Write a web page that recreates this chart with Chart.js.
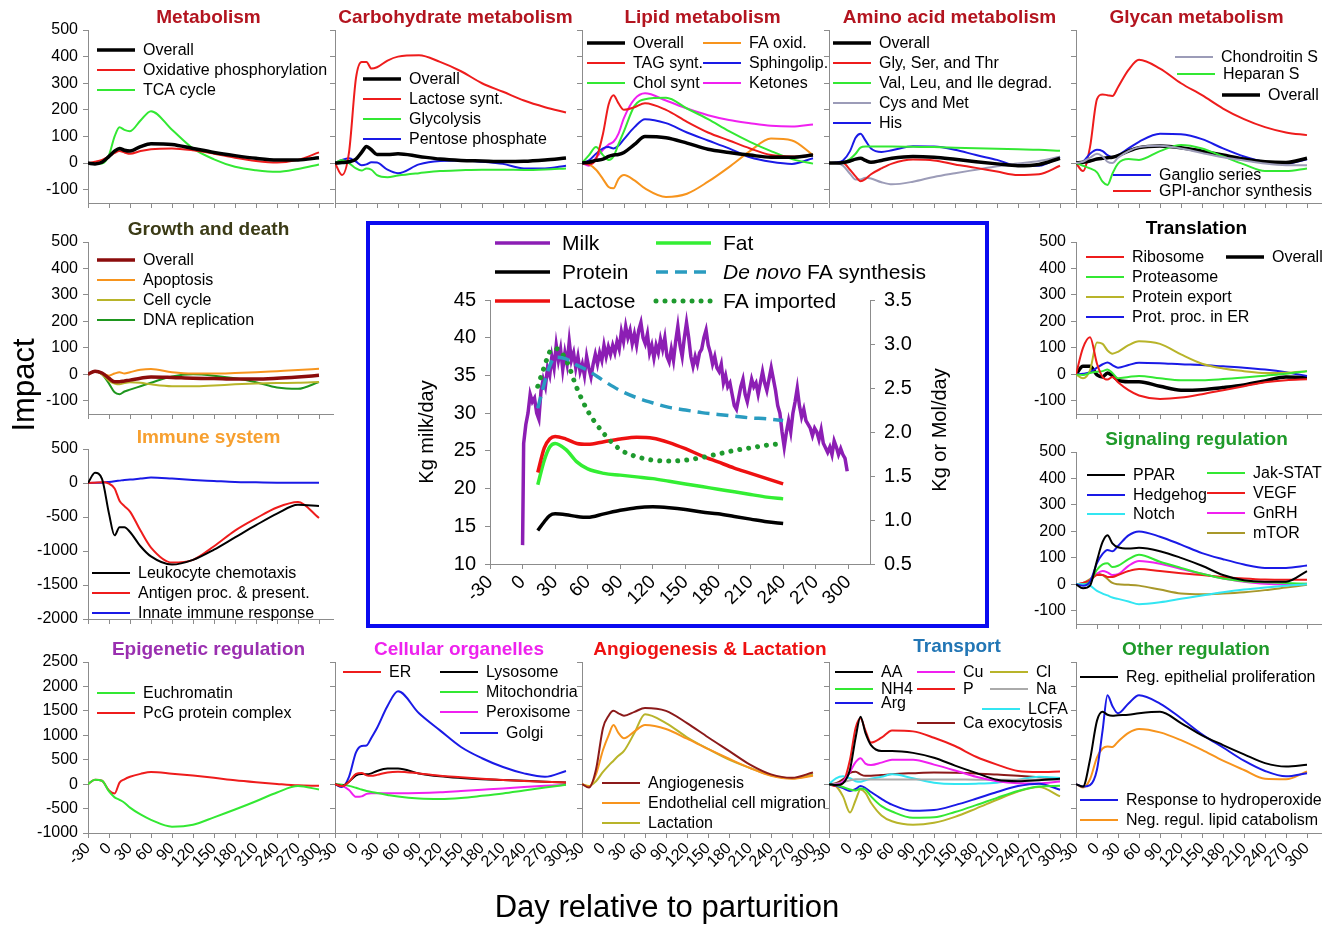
<!DOCTYPE html>
<html lang="en">
<head>
    <meta charset="UTF-8">
    <title>Impact over the lactation cycle</title>
    <script src="https://cdn.jsdelivr.net/npm/chart.js"></script>
    <style>
        body { margin: 0; background: #fff; overflow: hidden; }
        #page { position: relative; width: 1334px; height: 927px; }
        #page canvas { position: absolute; left: 0; top: 0; }
    </style>
</head>
<body>
<div id="page"></div>

<script>
    // ---- common axes ----
    const DAYS = [-30, -20, -10, 0, 8, 15, 22, 30, 45, 60, 90, 120, 150, 180, 210, 240, 270, 300];
    const X_TICKS = [-30, 0, 30, 60, 90, 120, 150, 180, 210, 240, 270, 300];
    const Y_TICKS_500 = [-100, 0, 100, 200, 300, 400, 500];
    const Y_TICKS_IMMUNE = [-2000, -1500, -1000, -500, 0, 500];
    const Y_TICKS_2500 = [-1000, -500, 0, 500, 1000, 1500, 2000, 2500];

    // ---- Metabolism ----
    const MET_OVERALL = [0, -3, 3, 25, 45, 55, 48, 45, 62, 73, 70, 55, 40, 28, 18, 12, 12, 20];
    const MET_OXPHOS = [0, 5, 12, 25, 38, 45, 40, 35, 45, 52, 55, 48, 35, 20, 8, 2, 12, 40];
    const MET_TCA = [0, -3, -2, 30, 100, 135, 125, 120, 160, 195, 125, 55, 14, -14, -27, -33, -22, -5];

    // ---- Carbohydrate metabolism ----
    const CARB_OVERALL = [0, 2, 5, 15, 40, 62, 50, 32, 32, 35, 25, 15, 10, 8, 6, 7, 12, 19];
    const CARB_LACTOSE = [0, -45, 40, 320, 380, 380, 355, 360, 385, 400, 405, 380, 345, 300, 268, 235, 210, 190];
    const CARB_GLYCO = [0, 12, 0, -20, -28, -20, -25, -45, -53, -47, -38, -30, -27, -25, -25, -26, -24, -20];
    const CARB_PENTOSE = [0, 12, 18, 5, -8, -5, 3, 2, -25, -38, -5, 8, 10, 5, -3, -20, -20, -10];

    // ---- Lipid metabolism ----
    const LIP_OVERALL = [0, 3, 10, 15, 25, 30, 32, 40, 70, 100, 95, 75, 52, 40, 30, 22, 22, 30];
    const LIP_TAG = [0, -5, 15, 110, 220, 255, 225, 200, 210, 225, 200, 155, 115, 85, 55, 30, 25, 30];
    const LIP_CHOL = [0, 30, 60, 30, 12, 25, 70, 120, 215, 240, 245, 205, 165, 120, 80, 45, 15, -2];
    const LIP_FAOX = [0, -5, -25, -60, -90, -95, -60, -45, -65, -95, -127, -115, -70, -15, 45, 92, 85, 30];
    const LIP_SPHINGO = [0, 10, 35, 55, 60, 55, 65, 90, 135, 165, 150, 115, 85, 55, 22, 5, -3, 18];
    const LIP_KETONES = [0, -10, 20, 50, 70, 80, 110, 170, 240, 262, 235, 205, 180, 162, 150, 140, 137, 145];

    // ---- Amino acid metabolism ----
    const AA_OVERALL = [0, 0, 2, 8, 15, 18, 10, 3, 10, 18, 25, 22, 14, 5, -3, -10, -5, 18];
    const AA_GLY = [0, 0, 0, -25, -50, -68, -60, -42, -20, -2, 13, 10, -5, -18, -32, -45, -42, -10];
    const AA_VAL = [0, 0, 2, 15, 35, 58, 62, 62, 62, 62, 61, 60, 58, 56, 54, 52, 50, 46];
    const AA_CYS = [0, 0, -10, -40, -62, -62, -55, -58, -72, -80, -70, -52, -38, -25, -12, -2, 8, 24];
    const AA_HIS = [0, 2, 10, 45, 95, 110, 85, 55, 42, 48, 63, 62, 50, 30, 12, -10, -10, 24];

    // ---- Glycan metabolism ----
    const GLY_OVERALL = [0, 3, 8, 15, 18, 20, 22, 28, 45, 58, 64, 58, 45, 30, 15, 5, 2, 18];
    const GLY_GPI = [0, -30, 60, 240, 258, 255, 252, 285, 350, 388, 355, 300, 255, 205, 165, 135, 115, 105];
    const GLY_GANGLIO = [0, 5, 35, 50, 45, 30, 22, 30, 55, 80, 110, 108, 90, 55, 25, 5, -2, 14];
    const GLY_HEPARAN = [0, -10, -20, -35, -70, -82, -40, -2, 15, 12, 45, 68, 55, 25, -5, -30, -30, -20];
    const GLY_CHONDRO = [0, 5, 20, 35, 25, 5, 0, 20, 45, 60, 65, 55, 38, 22, 10, -2, -8, -8];

    // ---- Growth and death ----
    const GRO_OVERALL = [0, 12, 5, -15, -28, -28, -25, -22, -15, -10, -12, -15, -16, -18, -18, -15, -10, -4];
    const GRO_APOP = [0, 12, 5, -5, 3, 8, 3, 8, 17, 20, 8, 3, 3, 5, 8, 12, 16, 21];
    const GRO_CELL = [0, 12, 0, -25, -35, -38, -33, -30, -32, -38, -45, -45, -42, -38, -35, -33, -32, -29];
    const GRO_DNA = [0, 12, 0, -35, -68, -75, -65, -58, -45, -32, -8, 0, -5, -15, -30, -50, -55, -29];

    // ---- Immune system ----
    const IMM_LEUKO = [0, 150, 60, -450, -770, -650, -650, -720, -930, -1080, -1200, -1130, -980, -800, -620, -450, -320, -340];
    const IMM_ANTIGEN = [0, 5, 10, -10, -80, -260, -340, -420, -700, -950, -1170, -1130, -930, -700, -520, -360, -280, -515];
    const IMM_INNATE = [0, 2, 5, 15, 25, 35, 45, 50, 65, 80, 65, 45, 30, 15, 10, 5, 3, 2];

    // ---- Translation ----
    const TRA_RIBO = [0, 100, 140, 40, -10, -20, -10, -30, -60, -80, -93, -88, -75, -60, -45, -30, -22, -19];
    const TRA_OVERALL = [0, 30, 30, -2, -10, 5, -5, -22, -28, -28, -45, -60, -58, -50, -40, -25, -10, -12];
    const TRA_PROTEASOME = [0, -3, 5, 10, 12, 18, 5, -15, -10, -6, -15, -22, -22, -18, -12, -5, 2, 12];
    const TRA_EXPORT = [0, -15, 15, 120, 115, 90, 78, 85, 110, 125, 115, 75, 40, 22, 12, 5, 6, 12];
    const TRA_ER = [0, 2, 8, 25, 38, 45, 35, 25, 35, 44, 42, 38, 35, 30, 25, 18, 8, -6];

    // ---- Signaling regulation ----
    const SIG_PPAR = [0, -15, -5, 90, 160, 185, 155, 140, 135, 138, 125, 100, 70, 35, 15, 10, 10, 50];
    const SIG_HEDGEHOG = [0, -5, 10, 80, 115, 130, 125, 145, 185, 200, 180, 150, 118, 95, 75, 62, 62, 71];
    const SIG_NOTCH = [0, 0, -5, -25, -35, -42, -50, -55, -65, -75, -68, -55, -42, -30, -20, -12, -5, 0];
    const SIG_JAK = [0, 0, 10, 55, 75, 80, 65, 70, 95, 112, 85, 62, 40, 22, 12, 8, 5, 2];
    const SIG_VEGF = [0, 5, 15, 35, 35, 28, 28, 35, 50, 58, 50, 42, 35, 28, 22, 18, 17, 17];
    const SIG_GNRH = [0, 3, 15, 40, 50, 45, 35, 38, 70, 88, 78, 58, 40, 22, 10, 2, 0, 2];
    const SIG_MTOR = [0, 5, 20, 40, 35, 20, 5, 0, -2, -5, -20, -35, -38, -35, -30, -22, -12, -2];

    // ---- Epigenetic regulation ----
    const EPI_EUCHRO = [0, 90, 70, -150, -270, -320, -380, -480, -620, -730, -870, -830, -680, -520, -350, -170, -40, -110];
    const EPI_PCG = [0, 90, 70, -130, -190, 30, 100, 150, 210, 250, 215, 175, 130, 80, 40, 5, -25, -35];

    // ---- Cellular organelles ----
    const ORG_ER = [0, -40, 50, 210, 230, 180, 170, 190, 240, 255, 220, 170, 140, 110, 85, 65, 50, 34];
    const ORG_LYSO = [0, -40, 50, 180, 210, 200, 220, 270, 320, 320, 220, 160, 125, 100, 85, 70, 50, 34];
    const ORG_MITO = [0, -10, -35, -75, -110, -140, -160, -180, -220, -255, -295, -305, -285, -240, -190, -130, -70, -14];
    const ORG_PEROX = [0, -30, -120, -260, -250, -200, -185, -185, -185, -185, -180, -165, -140, -115, -90, -60, -35, -14];
    const ORG_GOLGI = [0, -60, 150, 650, 780, 790, 950, 1150, 1600, 1900, 1450, 1100, 760, 530, 350, 220, 150, 270];

    // ---- Angiogenesis & Lactation ----
    const ANG_ANGIO = [0, -70, 300, 1150, 1400, 1500, 1450, 1400, 1480, 1560, 1500, 1250, 960, 680, 400, 200, 130, 240];
    const ANG_ENDO = [0, -50, 200, 700, 1000, 1210, 1050, 940, 1080, 1210, 1130, 930, 720, 520, 330, 170, 110, 170];
    const ANG_LACT = [0, -40, 60, 250, 380, 480, 580, 680, 1050, 1430, 1250, 960, 720, 500, 330, 180, 120, 190];

    // ---- Transport ----
    const TR_AA = [0, -20, 20, 300, 950, 1380, 1050, 800, 680, 680, 640, 540, 380, 230, 90, 60, 80, 110];
    const TR_NH4 = [0, -20, -60, -110, -130, -90, -110, -250, -450, -560, -690, -680, -570, -430, -280, -140, -50, -34];
    const TR_ARG = [0, -30, -80, -140, -100, -40, -80, -160, -300, -420, -545, -530, -430, -300, -160, -40, 10, -116];
    const TR_CU = [0, -10, 50, 250, 450, 530, 420, 390, 440, 500, 500, 400, 280, 150, 60, 20, 15, 55];
    const TR_P = [0, -40, 30, 500, 1150, 1350, 1100, 850, 950, 1100, 1080, 950, 780, 560, 400, 270, 250, 260];
    const TR_CL = [0, -40, -250, -580, -330, -110, -180, -380, -640, -760, -830, -790, -670, -500, -320, -150, -60, -252];
    const TR_NA = [0, 10, 40, 80, 100, 100, 100, 95, 95, 95, 95, 95, 95, 90, 90, 90, 90, 90];
    const TR_LCFA = [0, 120, 160, 120, 60, 50, 80, 110, 150, 200, 120, 30, 5, 10, 30, 90, 150, 125];
    const TR_CA = [0, 20, 100, 230, 255, 200, 170, 170, 185, 205, 225, 240, 235, 220, 195, 170, 140, 110];

    // ---- Other regulation ----
    const OTH_EPI = [0, -50, 500, 1300, 1480, 1420, 1400, 1410, 1420, 1450, 1480, 1250, 1000, 800, 610, 430, 360, 396];
    const OTH_HYDRO = [0, -50, -20, 300, 1100, 1820, 1600, 1450, 1650, 1820, 1650, 1350, 1020, 750, 480, 270, 160, 225];
    const OTH_NEG = [0, -70, 100, 550, 730, 770, 760, 870, 1050, 1130, 1060, 900, 700, 480, 290, 110, 100, 259];

    // ---- centre panel: milk yield and components ----
    const MILK_DAYS = [
        0, 1, 3, 5, 7, 9, 11, 13, 15, 17,
        19, 21, 23, 25, 27, 29, 31, 33, 35, 37,
        39, 41, 43, 45, 47, 49, 51, 53, 55, 57,
        59, 61, 63, 65, 67, 69, 71, 73, 75, 77,
        79, 81, 83, 85, 87, 89, 91, 93, 95, 97,
        99, 101, 103, 105, 107, 109, 111, 113, 115, 117,
        119, 121, 123, 125, 127, 129, 131, 133, 135, 137,
        139, 141, 143, 145, 147, 149, 151, 153, 155, 157,
        159, 161, 163, 165, 167, 169, 171, 173, 175, 177,
        179, 181, 183, 185, 187, 189, 191, 193, 195, 197,
        199, 201, 203, 205, 207, 209, 211, 213, 215, 217,
        219, 221, 223, 225, 227, 229, 231, 233, 235, 237,
        239, 241, 243, 245, 247, 249, 251, 253, 255, 257,
        259, 261, 263, 265, 267, 269, 271, 273, 275, 277,
        279, 281, 283, 285, 287, 289, 291, 293, 295, 297,
        299
    ];
    const MILK_KG = [
        12.5, 26, 28.5, 30, 32.5, 31.5, 32, 30, 29.2, 33,
        34.5, 33.5, 36, 35, 37.5, 36, 39, 37, 38.5, 35.8,
        38, 36.5, 39.5, 37, 38, 36, 37.5, 35.5, 36.5, 35,
        37.5, 36, 34.8, 36.5, 37.8, 36.5, 38, 37, 39, 37.5,
        38.8, 37.8, 39, 38, 39.5, 38.5, 40.8, 39.5, 41.5, 40,
        41, 39.2, 40.5, 39, 41, 42, 40, 39.2, 40.5, 38,
        39, 37.3, 39, 38, 39.8, 38.5, 40, 37.5, 36.8, 38.5,
        37, 39.5, 41.5, 39, 37.5, 40, 42, 40, 37.5, 36.2,
        37.5, 36.5, 38, 38.5, 40, 41, 39, 38, 36.5, 37.5,
        36, 35.5, 36.5, 34, 35, 33.5, 34, 32.5, 31, 30.5,
        32, 33.5, 34.5, 32.5, 31.5, 33, 34.5, 33.5, 34, 32.5,
        34, 35.5, 34, 33, 34.5, 36, 34.5, 33, 31, 30,
        27.5, 25.5, 27.5, 29, 27.5, 30, 31.5, 33.3, 31, 29.5,
        30.5, 29, 28.5, 28, 27, 28, 27.5, 26.5, 27.8, 26,
        25.4, 24.8, 25.5, 24.5, 26.3, 25.5, 24.5, 25.3, 24.5, 24,
        22.3
    ];
    const CENTER_DAYS = [14, 20, 25, 30, 40, 50, 60, 75, 90, 105, 120, 135, 150, 165, 180, 195, 210, 225, 240];
    const LACTOSE = [1.54, 1.82, 1.92, 1.95, 1.92, 1.87, 1.86, 1.89, 1.92, 1.94, 1.93, 1.88, 1.81, 1.73, 1.66, 1.59, 1.53, 1.47, 1.41];
    const FAT = [1.40, 1.68, 1.83, 1.87, 1.80, 1.66, 1.58, 1.53, 1.51, 1.49, 1.47, 1.44, 1.41, 1.38, 1.35, 1.32, 1.29, 1.26, 1.24];
    const PROTEIN = [0.88, 0.98, 1.05, 1.07, 1.06, 1.04, 1.03, 1.07, 1.11, 1.14, 1.15, 1.14, 1.12, 1.09, 1.07, 1.04, 1.01, 0.98, 0.96];
    const DE_NOVO = [2.27, 2.55, 2.75, 2.85, 2.83, 2.76, 2.70, 2.58, 2.47, 2.39, 2.33, 2.28, 2.25, 2.22, 2.20, 2.18, 2.16, 2.15, 2.13];
    const FA_IMPORTED = [2.52, 2.74, 2.91, 2.95, 2.82, 2.50, 2.24, 1.98, 1.80, 1.72, 1.68, 1.67, 1.68, 1.71, 1.75, 1.79, 1.82, 1.85, 1.87];
    const CENTER_X_TICKS = [-30, 0, 30, 60, 90, 120, 150, 180, 210, 240, 270, 300];
    const MILK_TICKS = [10, 15, 20, 25, 30, 35, 40, 45];
    const KG_MOL_TICKS = [0.5, 1.0, 1.5, 2.0, 2.5, 3.0, 3.5];

    // ---- look ----
    const FONT = '"Liberation Sans", Arial, Helvetica, sans-serif';
    const AXIS_GRAY = '#8c8c8c';
    const PAGE_W = 1334, PAGE_H = 927;
    const COL_X = [88, 335, 582, 829, 1076];
    const PANEL_W = 245;
    const C = {
        black: '#000000', red: '#ee1c1c', green: '#33e833', blue: '#1a1ae6', magenta: '#f020f0',
        orange: '#f7941d', gray: '#9c9cb8', olive: '#b8b42a', dkgreen: '#1e961e', dkred: '#8b0c0c',
        cyan: '#33e6f2', ltgray: '#aaaaaa', brown: '#8b1a1a', mtor: '#a8982a'
    };
    const TITLE_RED = '#b3141f';

    const ROW1 = { y0: 30, y1: 203, ty: 18, yMin: -150, yMax: 500, yTicks: Y_TICKS_500 };
    const ROW4 = { y0: 662, y1: 833, ty: 650, yMin: -1000, yMax: 2500, yTicks: Y_TICKS_2500, xLabels: true };

    const PANELS = [
        { ...ROW1, col: 0, title: 'Metabolism', color: TITLE_RED, yLabels: true,
          series: [['Overall', MET_OVERALL, C.black, 3.5], ['Oxidative phosphorylation', MET_OXPHOS, C.red], ['TCA cycle', MET_TCA, C.green]],
          legend: [[0, 97, 50], [1, 97, 70], [2, 97, 90]] },
        { ...ROW1, col: 1, title: 'Carbohydrate metabolism', color: TITLE_RED,
          series: [['Overall', CARB_OVERALL, C.black, 3.5], ['Lactose synt.', CARB_LACTOSE, C.red], ['Glycolysis', CARB_GLYCO, C.green], ['Pentose phosphate', CARB_PENTOSE, C.blue]],
          legend: [[0, 363, 79], [1, 363, 99], [2, 363, 119], [3, 363, 139]] },
        { ...ROW1, col: 2, title: 'Lipid metabolism', color: TITLE_RED,
          series: [['Overall', LIP_OVERALL, C.black, 3.5], ['TAG synt.', LIP_TAG, C.red], ['Chol synt', LIP_CHOL, C.green],
                   ['FA oxid.', LIP_FAOX, C.orange], ['Sphingolip.', LIP_SPHINGO, C.blue], ['Ketones', LIP_KETONES, C.magenta]],
          legend: [[0, 587, 43], [1, 587, 63], [2, 587, 83], [3, 703, 43], [4, 703, 63], [5, 703, 83]] },
        { ...ROW1, col: 3, title: 'Amino acid metabolism', color: TITLE_RED,
          series: [['Overall', AA_OVERALL, C.black, 3.5], ['Gly, Ser, and Thr', AA_GLY, C.red], ['Val, Leu, and Ile degrad.', AA_VAL, C.green],
                   ['Cys and Met', AA_CYS, C.gray], ['His', AA_HIS, C.blue]],
          legend: [[0, 833, 43], [1, 833, 63], [2, 833, 83], [3, 833, 103], [4, 833, 123]] },
        { ...ROW1, col: 4, title: 'Glycan metabolism', color: TITLE_RED,
          series: [['Chondroitin S', GLY_CHONDRO, C.gray], ['Heparan S', GLY_HEPARAN, C.green], ['Overall', GLY_OVERALL, C.black, 3.5],
                   ['Ganglio series', GLY_GANGLIO, C.blue], ['GPI-anchor synthesis', GLY_GPI, C.red]],
          legend: [[0, 1175, 57], [1, 1177, 74], [2, 1222, 95], [3, 1113, 175], [4, 1113, 191]] },

        { col: 0, y0: 242, y1: 414, ty: 230, yMin: -150, yMax: 500, yTicks: Y_TICKS_500, yLabels: true,
          title: 'Growth and death', color: '#3b3b16',
          series: [['Overall', GRO_OVERALL, C.dkred, 3.5], ['Apoptosis', GRO_APOP, C.orange], ['Cell cycle', GRO_CELL, C.olive], ['DNA replication', GRO_DNA, C.dkgreen]],
          legend: [[0, 97, 260], [1, 97, 280], [2, 97, 300], [3, 97, 320]] },
        { col: 4, y0: 242, y1: 414, ty: 229, yMin: -150, yMax: 500, yTicks: Y_TICKS_500, yLabels: true,
          title: 'Translation', color: '#000000',
          series: [['Ribosome', TRA_RIBO, C.red], ['Proteasome', TRA_PROTEASOME, C.green], ['Protein export', TRA_EXPORT, C.olive],
                   ['Prot. proc. in ER', TRA_ER, C.blue], ['Overall', TRA_OVERALL, C.black, 3.5]],
          legend: [[0, 1086, 257], [1, 1086, 277], [2, 1086, 297], [3, 1086, 317], [4, 1226, 257]] },

        { col: 0, y0: 449, y1: 619, ty: 438, yMin: -2000, yMax: 500, yTicks: Y_TICKS_IMMUNE, yLabels: true,
          title: 'Immune system', color: '#f7a030',
          series: [['Leukocyte chemotaxis', IMM_LEUKO, C.black], ['Antigen proc. & present.', IMM_ANTIGEN, C.red], ['Innate immune response', IMM_INNATE, C.blue]],
          legend: [[0, 92, 573], [1, 92, 593], [2, 92, 613]] },
        { col: 4, y0: 452, y1: 624, ty: 440, yMin: -150, yMax: 500, yTicks: Y_TICKS_500, yLabels: true,
          title: 'Signaling regulation', color: '#1f9a2a',
          series: [['PPAR', SIG_PPAR, C.black], ['Hedgehog', SIG_HEDGEHOG, C.blue], ['Notch', SIG_NOTCH, C.cyan],
                   ['Jak-STAT', SIG_JAK, C.green], ['VEGF', SIG_VEGF, C.red], ['GnRH', SIG_GNRH, C.magenta], ['mTOR', SIG_MTOR, C.mtor]],
          legend: [[0, 1087, 475], [1, 1087, 495], [2, 1087, 514], [3, 1207, 473], [4, 1207, 493], [5, 1207, 513], [6, 1207, 533]] },

        { ...ROW4, col: 0, title: 'Epigenetic regulation', color: '#9a2fb0', yLabels: true,
          series: [['Euchromatin', EPI_EUCHRO, C.green], ['PcG protein complex', EPI_PCG, C.red]],
          legend: [[0, 97, 693], [1, 97, 713]] },
        { ...ROW4, col: 1, title: 'Cellular organelles', color: '#ee22ee', tx: 459,
          series: [['ER', ORG_ER, C.red], ['Lysosome', ORG_LYSO, C.black], ['Mitochondria', ORG_MITO, C.green],
                   ['Peroxisome', ORG_PEROX, C.magenta], ['Golgi', ORG_GOLGI, C.blue]],
          legend: [[0, 343, 672], [1, 440, 672], [2, 440, 692], [3, 440, 712], [4, 460, 733]] },
        { ...ROW4, col: 2, title: 'Angiogenesis & Lactation', color: '#ee1111', tx: 710,
          series: [['Angiogenesis', ANG_ANGIO, C.brown], ['Endothelial cell migration', ANG_ENDO, C.orange], ['Lactation', ANG_LACT, C.olive]],
          legend: [[0, 602, 783], [1, 602, 803], [2, 602, 823]] },
        { ...ROW4, col: 3, title: 'Transport', color: '#2276b5', tx: 957, ty: 647,
          series: [['AA', TR_AA, C.black], ['NH4', TR_NH4, C.green], ['Arg', TR_ARG, C.blue], ['Cu', TR_CU, C.magenta], ['P', TR_P, C.red],
                   ['Cl', TR_CL, C.olive], ['Na', TR_NA, C.ltgray], ['LCFA', TR_LCFA, C.cyan], ['Ca exocytosis', TR_CA, C.brown]],
          legend: [[0, 835, 672], [1, 835, 689], [2, 835, 703], [3, 917, 672], [4, 917, 689], [5, 990, 672], [6, 990, 689], [7, 982, 709], [8, 917, 723]] },
        { ...ROW4, col: 4, title: 'Other regulation', color: '#1f9a2a', tx: 1196,
          series: [['Reg. epithelial proliferation', OTH_EPI, C.black], ['Response to hydroperoxide', OTH_HYDRO, C.blue], ['Neg. regul. lipid catabolism', OTH_NEG, C.orange]],
          legend: [[0, 1080, 677], [1, 1080, 800], [2, 1080, 820]] }
    ];

    const page = document.getElementById('page');

    function newCanvas() {
        const c = document.createElement('canvas');
        c.width = PAGE_W;
        c.height = PAGE_H;
        page.appendChild(c);
        return c;
    }

    function toPoints(days, vals) {
        return days.map((d, i) => ({ x: d, y: vals[i] }));
    }

    function legendItem(ctx, ds, x, y, len, gap, size) {
        ctx.save();
        ctx.strokeStyle = ds.borderColor;
        ctx.lineWidth = ds.borderWidth;
        ctx.lineCap = ds.borderCapStyle || 'butt';
        ctx.setLineDash(ds.borderDash || []);
        ctx.beginPath();
        ctx.moveTo(x, y);
        ctx.lineTo(x + len, y);
        ctx.stroke();
        ctx.restore();

        ctx.fillStyle = '#000';
        ctx.textAlign = 'left';
        ctx.textBaseline = 'middle';
        let tx = x + gap;
        let text = ds.label;
        if (ds.italicPart) {
            ctx.font = 'italic ' + size + 'px ' + FONT;
            ctx.fillText(ds.italicPart, tx, y + 1);
            tx += ctx.measureText(ds.italicPart).width;
            text = ds.label.slice(ds.italicPart.length);
        }
        ctx.font = size + 'px ' + FONT;
        ctx.fillText(text, tx, y + 1);
    }

    function axisLook(extra) {
        return Object.assign({
            grid: { drawOnChartArea: false, drawTicks: true, tickLength: 5, color: AXIS_GRAY, lineWidth: 1 },
            border: { display: true, color: AXIS_GRAY, width: 1 }
        }, extra);
    }

    // one full-page canvas per small panel, the plot box set by layout padding
    function makePanel(p) {
        const x0 = COL_X[p.col], x1 = x0 + PANEL_W;
        const yW = p.yLabels ? 62 : 6;   // labels are clipped to the axis box, keep it wide
        const xH = p.xLabels ? 40 : 6;

        const decoration = {
            id: 'panelDeco',
            afterDraw(chart) {
                const ctx = chart.ctx;
                ctx.save();
                ctx.font = 'bold 19px ' + FONT;
                ctx.fillStyle = p.color;
                ctx.textAlign = 'center';
                ctx.textBaseline = 'middle';
                ctx.fillText(p.title, p.tx || (x0 + PANEL_W / 2 - 2), p.ty);
                p.legend.forEach(([i, x, y]) => legendItem(ctx, chart.data.datasets[i], x, y, 38, 46, 16));
                ctx.restore();
            }
        };

        return new Chart(newCanvas(), {
            type: 'line',
            data: {
                datasets: p.series.map(([label, vals, color, width]) => ({
                    label: label,
                    data: toPoints(DAYS, vals),
                    borderColor: color,
                    borderWidth: width || 2,
                    pointRadius: 0,
                    cubicInterpolationMode: 'monotone',
                    fill: false
                }))
            },
            options: {
                responsive: false,
                animation: false,
                devicePixelRatio: 1,
                events: [],
                layout: { padding: { left: x0 - yW, top: p.y0, right: PAGE_W - x1, bottom: PAGE_H - p.y1 - xH } },
                plugins: { legend: { display: false }, tooltip: { enabled: false }, title: { display: false } },
                scales: {
                    x: axisLook({
                        type: 'linear', min: -30, max: 320,
                        afterBuildTicks: s => { s.ticks = X_TICKS.map(v => ({ value: v })); },
                        afterFit: s => { s.height = xH; },
                        ticks: {
                            display: !!p.xLabels, autoSkip: false, minRotation: 45, maxRotation: 45,
                            padding: 1, color: '#000', font: { family: FONT, size: 16 },
                            callback: v => String(v)
                        }
                    }),
                    y: axisLook({
                        min: p.yMin, max: p.yMax,
                        afterBuildTicks: s => { s.ticks = p.yTicks.map(v => ({ value: v })); },
                        afterFit: s => { s.width = yW; },
                        ticks: {
                            display: !!p.yLabels, padding: 5, color: '#000', font: { family: FONT, size: 16 },
                            callback: v => String(v)
                        }
                    })
                }
            },
            plugins: [decoration]
        });
    }

    PANELS.forEach(makePanel);

    // ---- centre panel ----
    const CX0 = 490, CX1 = 870, CY0 = 300, CY1 = 564;
    const centerDeco = {
        id: 'centerDeco',
        afterDraw(chart) {
            const ctx = chart.ctx;
            const ds = chart.data.datasets;
            ctx.save();
            // blue frame
            ctx.strokeStyle = '#0a0af0';
            ctx.lineWidth = 4;
            ctx.strokeRect(368, 223, 619, 403);

            // legend (dataset index, x, y)
            [[5, 495, 243], [4, 495, 272], [2, 495, 301], [3, 656, 243], [0, 656, 272], [1, 656, 301]]
                .forEach(([i, x, y]) => legendItem(ctx, ds[i], x, y, 55, 67, 21));

            // axis titles
            ctx.fillStyle = '#000';
            ctx.textAlign = 'center';
            ctx.textBaseline = 'middle';
            ctx.font = '20px ' + FONT;
            ctx.save(); ctx.translate(427, 432); ctx.rotate(-Math.PI / 2); ctx.fillText('Kg milk/day', 0, 0); ctx.restore();
            ctx.save(); ctx.translate(940, 430); ctx.rotate(-Math.PI / 2); ctx.fillText('Kg or Mol/day', 0, 0); ctx.restore();

            // figure-wide labels
            ctx.font = '31px ' + FONT;
            ctx.save(); ctx.translate(25, 385); ctx.rotate(-Math.PI / 2); ctx.fillText('Impact', 0, 0); ctx.restore();
            ctx.fillText('Day relative to parturition', 667, 908);
            ctx.restore();
        }
    };

    new Chart(newCanvas(), {
        type: 'line',
        data: {
            datasets: [
                { label: 'De novo FA synthesis', italicPart: 'De novo', data: toPoints(CENTER_DAYS, DE_NOVO), yAxisID: 'y2',
                  borderColor: '#2a9cc0', borderWidth: 3.5, borderDash: [12, 7], cubicInterpolationMode: 'monotone' },
                { label: 'FA imported', data: toPoints(CENTER_DAYS, FA_IMPORTED), yAxisID: 'y2',
                  borderColor: '#1e9a2e', borderWidth: 5, borderDash: [0.01, 9], borderCapStyle: 'round', cubicInterpolationMode: 'monotone' },
                { label: 'Lactose', data: toPoints(CENTER_DAYS, LACTOSE), yAxisID: 'y2',
                  borderColor: '#ee1111', borderWidth: 3.5, cubicInterpolationMode: 'monotone' },
                { label: 'Fat', data: toPoints(CENTER_DAYS, FAT), yAxisID: 'y2',
                  borderColor: '#33ee33', borderWidth: 3.5, cubicInterpolationMode: 'monotone' },
                { label: 'Protein', data: toPoints(CENTER_DAYS, PROTEIN), yAxisID: 'y2',
                  borderColor: '#000000', borderWidth: 3.5, cubicInterpolationMode: 'monotone' },
                { label: 'Milk', data: toPoints(MILK_DAYS, MILK_KG), yAxisID: 'y',
                  borderColor: '#8c1eb4', borderWidth: 3.5, tension: 0 }
            ]
        },
        options: {
            responsive: false,
            animation: false,
            devicePixelRatio: 1,
            events: [],
            elements: { point: { radius: 0 } },
            layout: { padding: { left: CX0 - 60, top: CY0, right: PAGE_W - CX1 - 60, bottom: PAGE_H - CY1 - 50 } },
            plugins: { legend: { display: false }, tooltip: { enabled: false }, title: { display: false } },
            scales: {
                x: axisLook({
                    type: 'linear', min: -30, max: 320,
                    afterBuildTicks: s => { s.ticks = CENTER_X_TICKS.map(v => ({ value: v })); },
                    afterFit: s => { s.height = 50; },
                    ticks: { autoSkip: false, minRotation: 45, maxRotation: 45, padding: 2, color: '#000',
                             font: { family: FONT, size: 19 }, callback: v => String(v) }
                }),
                y: axisLook({
                    position: 'left', min: 10, max: 45,
                    afterBuildTicks: s => { s.ticks = MILK_TICKS.map(v => ({ value: v })); },
                    afterFit: s => { s.width = 60; },
                    ticks: { padding: 9, color: '#000', font: { family: FONT, size: 20 }, callback: v => String(v) }
                }),
                y2: axisLook({
                    position: 'right', min: 0.5, max: 3.5,
                    afterBuildTicks: s => { s.ticks = KG_MOL_TICKS.map(v => ({ value: v })); },
                    afterFit: s => { s.width = 60; },
                    ticks: { padding: 9, color: '#000', font: { family: FONT, size: 20 }, callback: v => v.toFixed(1) }
                })
            }
        },
        plugins: [centerDeco]
    });
</script>
</body>
</html>
